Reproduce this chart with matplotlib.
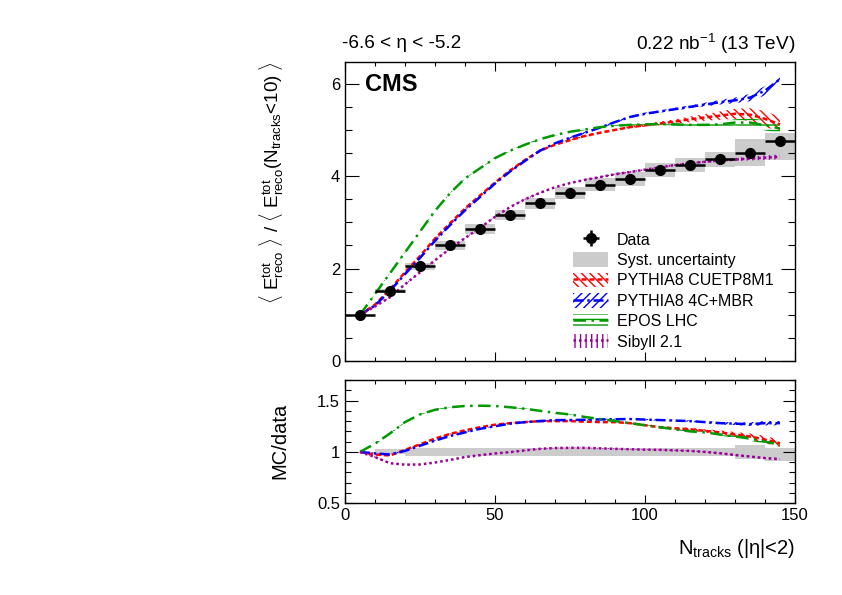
import numpy as np
import matplotlib
matplotlib.use('Agg')
import matplotlib.pyplot as plt
from matplotlib.patches import Patch
from matplotlib.lines import Line2D
from matplotlib.ticker import MultipleLocator

plt.rcParams['font.family'] = ['Liberation Sans', 'DejaVu Sans']
plt.rcParams['mathtext.fontset'] = 'custom'
plt.rcParams['mathtext.rm'] = 'Liberation Sans'
plt.rcParams['mathtext.it'] = 'Liberation Sans:italic'
plt.rcParams['mathtext.bf'] = 'Liberation Sans:bold'
plt.rcParams['hatch.linewidth'] = 1.0

# ---------------- data ----------------
bin_lo = [0, 10, 20, 30, 40, 50, 60, 70, 80, 90, 100, 110, 120, 130, 140]
bin_hi = [10, 20, 30, 40, 50, 60, 70, 80, 90, 100, 110, 120, 130, 140, 150]
data_y = [1.00, 1.51, 2.05, 2.50, 2.85, 3.16, 3.41, 3.63, 3.81, 3.94, 4.13, 4.24, 4.37, 4.51, 4.76]
data_stat = [0.005, 0.01, 0.01, 0.01, 0.01, 0.01, 0.01, 0.01, 0.01, 0.01, 0.01, 0.015, 0.02, 0.03, 0.04]
syst_up_rel = [0.0, 0.025, 0.037, 0.037, 0.037, 0.037, 0.037, 0.037, 0.037, 0.037, 0.037, 0.037, 0.037, 0.065, 0.036]
syst_dn_rel = [0.0, 0.025, 0.037, 0.037, 0.037, 0.037, 0.037, 0.037, 0.037, 0.037, 0.037, 0.037, 0.037, 0.065, 0.086]

mc_x = [5, 10, 15, 20, 25, 30, 35, 40, 45, 50, 55, 60, 65, 70, 75, 80, 85, 90, 95, 100,
        105, 110, 115, 120, 125, 130, 135, 140, 145]

cuetp8m1 = [1.00, 1.22, 1.55, 1.92, 2.27, 2.65, 2.98, 3.30, 3.58, 3.86, 4.12, 4.35, 4.55, 4.68, 4.78,
            4.87, 4.94, 5.00, 5.06, 5.10, 5.14, 5.18, 5.23, 5.27, 5.31, 5.35, 5.33, 5.24, 5.12]
mbr4c = [1.00, 1.20, 1.52, 1.88, 2.23, 2.60, 2.94, 3.26, 3.55, 3.84, 4.10, 4.33, 4.55, 4.71, 4.83,
         4.94, 5.05, 5.17, 5.28, 5.35, 5.40, 5.45, 5.50, 5.55, 5.60, 5.64, 5.70, 5.85, 6.10]
epos = [1.00, 1.45, 1.90, 2.35, 2.80, 3.25, 3.63, 3.95, 4.17, 4.39, 4.55, 4.68, 4.80, 4.89, 4.96,
        5.01, 5.06, 5.09, 5.11, 5.12, 5.13, 5.12, 5.11, 5.11, 5.12, 5.16, 5.16, 5.10, 5.03]
sibyll = [1.00, 1.18, 1.38, 1.66, 1.92, 2.18, 2.43, 2.66, 2.88, 3.12, 3.33, 3.50, 3.64, 3.76, 3.85,
          3.92, 3.98, 4.04, 4.09, 4.14, 4.19, 4.24, 4.28, 4.31, 4.34, 4.36, 4.38, 4.40, 4.42]

cuetp8m1_err = [0.0, 0.01, 0.01, 0.01, 0.01, 0.01, 0.01, 0.01, 0.01, 0.012, 0.012, 0.012, 0.015, 0.015, 0.015,
                0.02, 0.02, 0.02, 0.025, 0.03, 0.04, 0.05, 0.06, 0.07, 0.09, 0.11, 0.14, 0.17, 0.16]
mbr4c_err = [0.0, 0.01, 0.01, 0.01, 0.01, 0.01, 0.01, 0.01, 0.01, 0.012, 0.012, 0.012, 0.015, 0.015, 0.015,
             0.02, 0.02, 0.02, 0.02, 0.025, 0.025, 0.03, 0.03, 0.04, 0.05, 0.06, 0.08, 0.10, 0.10]
epos_err = [0.0, 0.01, 0.01, 0.01, 0.01, 0.01, 0.01, 0.01, 0.01, 0.012, 0.012, 0.012, 0.015, 0.015, 0.015,
            0.015, 0.015, 0.02, 0.02, 0.02, 0.025, 0.025, 0.03, 0.03, 0.05, 0.07, 0.09, 0.11, 0.10]
sibyll_err = [0.0, 0.01, 0.01, 0.01, 0.01, 0.01, 0.01, 0.01, 0.01, 0.01, 0.01, 0.01, 0.012, 0.012, 0.012,
              0.012, 0.015, 0.015, 0.015, 0.015, 0.02, 0.02, 0.02, 0.025, 0.03, 0.035, 0.04, 0.05, 0.05]

ratio_cuetp8m1 = [1.00, 0.975, 0.965, 1.02, 1.074, 1.13, 1.175, 1.21, 1.24, 1.265, 1.28, 1.29, 1.30, 1.30, 1.30,
                  1.295, 1.29, 1.29, 1.28, 1.26, 1.24, 1.23, 1.22, 1.205, 1.19, 1.17, 1.15, 1.12, 1.085]
ratio_mbr4c = [1.00, 0.985, 0.975, 1.01, 1.06, 1.11, 1.155, 1.19, 1.225, 1.25, 1.275, 1.29, 1.30, 1.31, 1.31,
               1.313, 1.316, 1.318, 1.32, 1.315, 1.31, 1.305, 1.30, 1.29, 1.28, 1.275, 1.27, 1.28, 1.28]
ratio_epos = [1.00, 1.08, 1.18, 1.29, 1.365, 1.41, 1.435, 1.447, 1.45, 1.447, 1.435, 1.42, 1.40, 1.38, 1.365,
              1.34, 1.32, 1.30, 1.28, 1.26, 1.24, 1.22, 1.20, 1.19, 1.17, 1.15, 1.13, 1.10, 1.07]
ratio_sibyll = [1.00, 0.95, 0.89, 0.876, 0.878, 0.897, 0.922, 0.95, 0.968, 0.985, 0.998, 1.015, 1.03, 1.038, 1.04,
                1.04, 1.035, 1.03, 1.026, 1.022, 1.02, 1.015, 1.01, 1.0, 0.987, 0.97, 0.955, 0.94, 0.93]

labels = ['PYTHIA8 CUETP8M1', 'PYTHIA8 4C+MBR', 'EPOS LHC', 'Sibyll 2.1']
colors = ['#ff0000', '#0000ff', '#009900', '#990099']
hatches = ['\\\\\\\\', '////', '---', '|||']
styles = [(0, (2.0, 1.2)), (0, (4, 1.5, 1, 1.5)), (0, (5, 2.2, 1, 2.2)), (0, (1, 1.2))]

# ---------------- figure ----------------
W, H = 842, 595
fig = plt.figure(figsize=(W / 100, H / 100), dpi=100)
L, R = 345, 795
ax = fig.add_axes([L / W, 1 - 361 / H, (R - L) / W, (361 - 62) / H])
axr = fig.add_axes([L / W, 1 - 503.3 / H, (R - L) / W, (503.3 - 380) / H])

lo = np.array(bin_lo, float); hi = np.array(bin_hi, float)
cen = (lo + hi) / 2; wid = hi - lo
dy = np.array(data_y)
su = np.array(syst_up_rel); sd = np.array(syst_dn_rel)

# syst boxes
ax.bar(cen, dy * (su + sd), width=wid, bottom=dy * (1 - sd), color='#cccccc', lw=0, zorder=1)
axr.bar(cen, su + sd, width=wid, bottom=1 - sd, color='#cccccc', lw=0, zorder=1)

mcs = [cuetp8m1, mbr4c, epos, sibyll]
errs = [cuetp8m1_err, mbr4c_err, epos_err, sibyll_err]
ratios = [ratio_cuetp8m1, ratio_mbr4c, ratio_epos, ratio_sibyll]
handles = []
for mc, er, rt, c, h, ls, lab in zip(mcs, errs, ratios, colors, hatches, styles, labels):
    mc = np.array(mc); er = np.array(er); rt = np.array(rt)
    ax.fill_between(mc_x, mc - er, mc + er, facecolor='none', edgecolor=c, hatch=h, lw=0, zorder=2)
    ax.plot(mc_x, mc, color=c, ls=ls, lw=1.8, zorder=3)
    rel = er / mc
    axr.fill_between(mc_x, rt * (1 - rel), rt * (1 + rel), facecolor='none', edgecolor=c, hatch=h, lw=0, zorder=2)
    axr.plot(mc_x, rt, color=c, ls=ls, lw=1.8, zorder=3)
    handles.append(((Patch(facecolor='none', edgecolor=c, hatch=h, lw=0),
                     Line2D([], [], color=c, ls=ls, lw=1.8)), lab))

eb = ax.errorbar(cen, dy, xerr=wid / 2, yerr=data_stat, fmt='o', color='black', ms=7,
                 elinewidth=1.8, capsize=0, zorder=5)

# axes styling
for a in (ax, axr):
    a.set_xlim(0, 150)
    a.xaxis.set_major_locator(MultipleLocator(50))
    a.xaxis.set_minor_locator(MultipleLocator(10))
    a.tick_params(which='both', direction='in', top=True, right=True, labelsize=12, width=0.8)
    for s in a.spines.values():
        s.set_linewidth(1.0)

ax.set_ylim(0, 6.47)
ax.yaxis.set_major_locator(MultipleLocator(2))
ax.yaxis.set_minor_locator(MultipleLocator(0.5))
ax.tick_params(axis='y', which='major', length=10)
ax.tick_params(axis='y', which='minor', length=5)
ax.tick_params(axis='x', which='major', length=6.5)
ax.tick_params(axis='x', which='minor', length=3.2)
ax.tick_params(axis='x', labelbottom=False)

axr.set_ylim(0.5, 1.7)
axr.yaxis.set_major_locator(MultipleLocator(0.5))
axr.yaxis.set_minor_locator(MultipleLocator(0.1))
axr.yaxis.set_major_formatter(matplotlib.ticker.FuncFormatter(lambda v, p: ('%g' % v)))
axr.tick_params(axis='y', which='major', length=9)
axr.tick_params(axis='y', which='minor', length=4.5)
axr.tick_params(axis='x', which='major', length=6)
axr.tick_params(axis='x', which='minor', length=3)

# legend
hl = [(eb, 'Data'), (Patch(facecolor='#cccccc', lw=0), 'Syst. uncertainty')] + handles
leg = ax.legend([h for h, _ in hl], [l for _, l in hl], loc='upper left',
                bbox_to_anchor=((573 - L) / (R - L), (361 - 232) / 299.0), frameon=False,
                fontsize=11.5, handlelength=2.2, handleheight=1.0, labelspacing=0.3,
                handletextpad=0.55, borderaxespad=0, borderpad=0)

# texts
ax.text(0.045, 0.925, 'CMS', transform=ax.transAxes, fontsize=17, fontweight='bold', va='center', ha='left')
fig.text(342 / W, 1 - 44 / H, '-6.6 < η < -5.2', fontsize=13.7, ha='left', va='center')
fig.text(R / W, 1 - 44 / H, r'0.22 nb$^{-1}$ (13 TeV)', fontsize=13.7, ha='right', va='center')
fig.text(272 / W, 1 - 61 / H,
         r'$\langle\ \mathrm{E^{tot}_{reco}}\ \rangle\ /\ \langle\ \mathrm{E^{tot}_{reco}(N_{tracks}}$<10$)\ \rangle$',
         fontsize=13.5, rotation=90, ha='center', va='top')
fig.text(280 / W, 1 - 441 / H, 'MC/data', fontsize=14.5, rotation=90, ha='center', va='center')
fig.text(R / W, 1 - 548 / H, r'$\mathrm{N_{tracks}}$ (|η|<2)', fontsize=14.5, ha='right', va='center')

fig.savefig('out.png', dpi=100)
